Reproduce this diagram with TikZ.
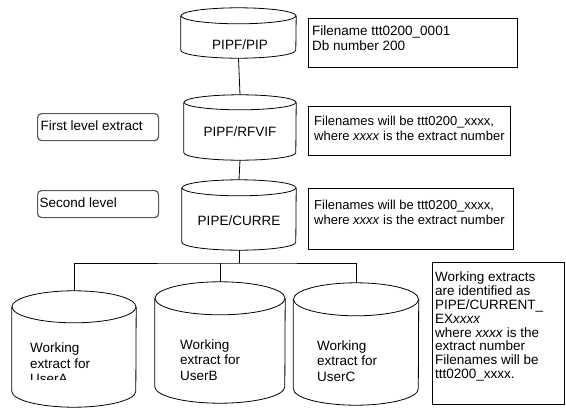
\documentclass[tikz,border=0pt]{standalone}
\usepackage{fontspec}
\setmainfont{Liberation Sans}
\tikzset{
  ln/.style={draw=black, line width=0.8pt},
  infobox/.style={draw=black, line width=0.8pt, inner sep=0pt, anchor=north west},
  tagbox/.style={draw=black!65, line width=1.2pt, rounded corners=4pt, inner sep=0pt, anchor=north west},
  txt/.style={inner sep=0pt, align=left, anchor=north west, font=\fontsize{13.5}{14.6}\selectfont},
  txtS/.style={txt, font=\fontsize{13}{14.6}\selectfont},
  txtA/.style={txt, font=\fontsize{13.5}{15.5}\selectfont},
  txtB/.style={txt, font=\fontsize{13.5}{13.8}\selectfont},
  lbl/.style={inner sep=0pt, font=\fontsize{13.5}{15}\selectfont},
}
% name, cx, top, bottom, rx, ry
\newcommand\drumat[6]{%
  \node[inner sep=0pt, minimum width={2*#5*1pt}, minimum height={(#4-#3)*1pt}] (#1) at (#2,{(#3+#4)/2}) {};
  \draw[ln] ([yshift=-#6pt]#1.north west) -- ([yshift=#6pt]#1.south west)
     arc[start angle=180, end angle=360, x radius=#5pt, y radius=#6pt]
     -- ([yshift=-#6pt]#1.north east);
  \draw[ln] ([yshift=-#6pt]#1.north) ellipse[x radius=#5pt, y radius=#6pt];
}
\begin{document}
\begin{tikzpicture}[x=1pt,y=-1pt]
\useasboundingbox (0,0) rectangle (566,410);
% database drums
\drumat{c1}{238.5}{8}{58}{57.5}{8}
\drumat{c2}{240}{95}{160}{56}{7.5}
\drumat{c3}{239}{180}{250}{57}{8}
\drumat{ua}{74}{291}{407}{62}{16}
\drumat{ub}{220}{282}{403}{65}{16.5}
\drumat{uc}{356}{283}{405}{62.5}{16.5}
% drum labels
\node[lbl, anchor=base] (n1) at (240,49.5) {PIPF/PIP};
\node[lbl, anchor=base] (n2) at (240,136.5) {PIPF/RFVIF};
\node[lbl, anchor=base] (n3) at (239,225.5) {PIPE/CURRE};
\begin{scope}
  \clip (12,330) rectangle (135,379);
  \node[txtA] (na) at (30,343) {Working\\extract for\\UserA};
\end{scope}
\node[txtA] (nb) at (180,339.2) {Working\\extract for\\UserB};
\node[txtA] (nc) at (317,340.2) {Working\\extract for\\UserC};
% connectors
\coordinate (bus) at (239,263);
\draw[ln] (c1.south) -- (c2.north);
\draw[ln] (c2.south) -- (c3.north);
\draw[ln] (c3.south) -- (bus);
\draw[ln] (ua.north) |- (bus) -| (uc.north);
\draw[ln] (ub.north) -- (ub.north |- bus);
% info boxes
\node[infobox, minimum width=209pt, minimum height=49pt] (b1) at (308,18) {};
\node[infobox, minimum width=202pt, minimum height=49pt] (b2) at (308,106) {};
\node[infobox, minimum width=205pt, minimum height=61pt] (b3) at (308,188) {};
\node[infobox, minimum width=132pt, minimum height=142pt] (b4) at (432,262) {};
\node[txt] (t1) at (312,25.7) {Filename ttt0200\_0001\\Db number 200};
\node[txtS] (t2) at (314,116) {Filenames will be ttt0200\_xxxx,\\where \textit{xxxx} is the extract number};
\node[txtS] (t3) at (314,199.8) {Filenames will be ttt0200\_xxxx,\\where \textit{xxxx} is the extract number};
\node[txtB] (t4) at (435,271.9) {Working extracts\\are identified as\\PIPE/CURRENT\_\\EX\textit{xxxx}\\where \textit{xxxx} is the\\extract number\\Filenames will be\\ttt0200\_xxxx.};
% level tags
\node[tagbox, minimum width=121pt, minimum height=27pt] (g1) at (37,113) {};
\node[tagbox, minimum width=121pt, minimum height=27pt] (g2) at (37,190) {};
\node[lbl, anchor=base west] (s1) at (40.5,130.7) {First level extract};
\node[lbl, anchor=base west] (s2) at (39.5,207.3) {Second level};
\end{tikzpicture}
\end{document}
